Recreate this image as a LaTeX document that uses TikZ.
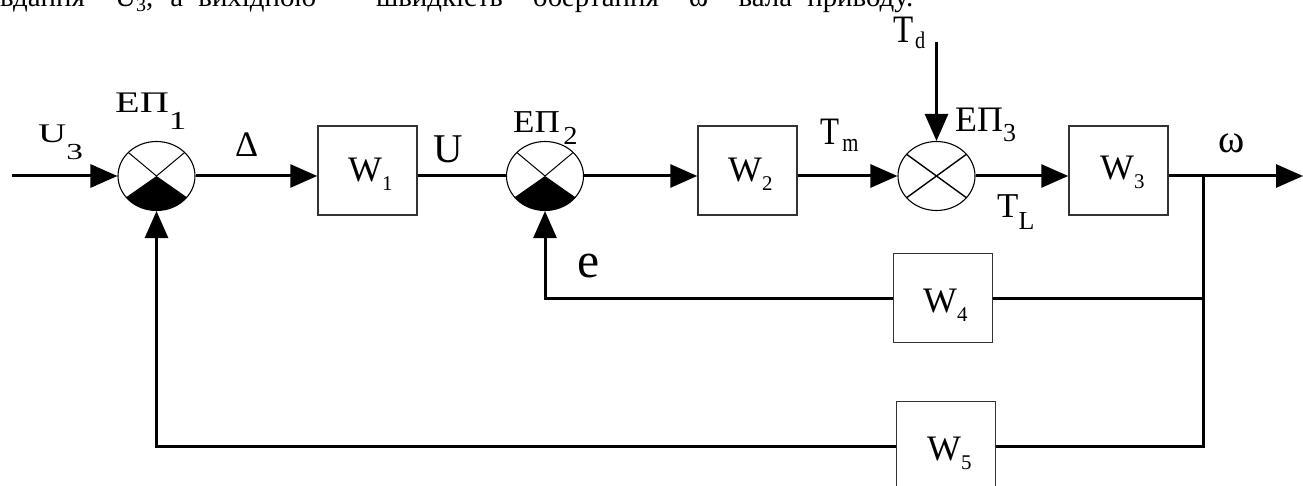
\documentclass[tikz,border=0pt]{standalone}
\usepackage{fontspec}
\usepackage{graphicx}
\setmainfont{Liberation Serif}
\usetikzlibrary{arrows.meta,shapes.geometric,calc}
\newcommand\fs[1]{\fontsize{#1}{#1}\selectfont}
\newcommand\lsub[3]{\raisebox{-#2bp}{\fs{#1}#3}}
\begin{document}
\begin{tikzpicture}[x=1bp,y=-1bp,
  ln/.style={line width=3bp},
  arr/.style={line width=3bp,-{Triangle[length=27bp,width=23bp]}},
  blk/.style={draw=black!80,line width=1.5bp,minimum width=99bp,minimum height=89bp,inner sep=0pt,fill=white},
  sj/.style={ellipse,draw,line width=1.1bp,minimum width=77bp,minimum height=69bp,inner sep=0pt},
  lbl/.style={inner sep=0pt,anchor=base west},
]
\useasboundingbox (0,0) rectangle (1303,486);
\clip (0,0) rectangle (1303,486);
\fill[white] (0,0) rectangle (1303,486);

% top text line (clipped, as in the reference)
\node[lbl,font=\fs{29}] (top) at (0,7) {\makebox[913bp][s]{вдання\ \ U\lsub{20}{5}{3}, а вихідною \ – швидкість \ обертання \ ω \ вала приводу.}};

% summing junctions
\node[sj] (j1) at (156.5,176) {};
\node[sj] (j2) at (545,176) {};
\node[sj] (j3) at (936.5,176) {};

% blocks
\node[blk] (w1) at (367.5,170.5) {};
\node[blk] (w2) at (747.5,170.5) {};
\node[blk] (w3) at (1118.5,170.5) {};
\node[blk] (w4) at (943,298) {};
\node[blk] (w5) at (946,446) {};

% junction decorations
\foreach \j in {j1,j2}{
  \fill (\j.center) -- ++(142:38.5 and 34.5) arc[start angle=142,end angle=38,x radius=38.5,y radius=34.5] -- cycle;
  \draw[line width=1bp] (\j.center) -- ++(-43:38.5 and 34.5);
  \draw[line width=1bp] (\j.center) -- ++(-137:38.5 and 34.5);
}
\draw[line width=1.4bp] ($(j3.center)+(-39:38.5 and 34.5)$) -- ($(j3.center)+(141:38.5 and 34.5)$);
\draw[line width=1.4bp] ($(j3.center)+(-141:38.5 and 34.5)$) -- ($(j3.center)+(39:38.5 and 34.5)$);

% coordinates
\coordinate (in) at (12,176);
\coordinate (out) at (1303,176);
\coordinate (td) at (936.5,42);
\coordinate (br) at (1203,176);

% connectors
\draw[arr] (in) -- (j1.west);
\draw[arr] (j1.east) -- (j1.east -| w1.west);
\draw[ln] (j2.west -| w1.east) -- (j2.west);
\draw[arr] (j2.east) -- (j2.east -| w2.west);
\draw[arr] (j3.west -| w2.east) -- (j3.west);
\draw[arr] (j3.east) -- (j3.east -| w3.west);
\draw[arr] (br -| w3.east) -- (out);
\draw[arr] (td) -- (j3.north);
\draw[ln] (br) |- (w5.east);
\draw[ln] (br |- w4.east) -- (w4.east);
\draw[arr] (w4.west) -| (j2.south);
\draw[arr] (w5.west) -| (j1.south);

% labels
\node[lbl] (lu3) at (38,143) {\scalebox{1.45}[1]{\fs{27}U\lsub{23}{17}{3}}};
\node[lbl] (le1) at (115,113) {\scalebox{1.35}[1]{\fs{30}ЕП\lsub{26}{17}{1}}};
\node[lbl,font=\fs{36}] (ld) at (235,157) {Δ};
\node[lbl,font=\fs{41}] (lu) at (433,163) {U};
\node[lbl] (le2) at (513,133) {\scalebox{1.1}[1]{\fs{32}ЕП\kern3bp\lsub{26}{12}{2}}};
\node[lbl] (ltm) at (820,145) {\scalebox{0.8}[1]{\fs{39}T\kern4bp\lsub{26}{7}{m}}};
\node[lbl] (ltd) at (893,43) {\scalebox{0.85}[1]{\fs{39}T\kern2bp\lsub{24}{6}{d}}};
\node[lbl] (le3) at (955,132) {\fs{36}ЕП\lsub{26}{10}{3}};
\node[lbl] (ltl) at (997,218) {\fs{35}T\lsub{26}{12}{L}};
\node[lbl,font=\fs{40}] (lw) at (1218,153) {ω};
\node[lbl,font=\fs{50}] (le) at (577,277) {e};

\node[lbl,font=\fs{36}] at (348,182) {W\lsub{21}{9}{1}};
\node[lbl,font=\fs{36}] at (728,182) {W\lsub{21}{9}{2}};
\node[lbl,font=\fs{36}] at (1100,180) {W\lsub{21}{9}{3}};
\node[lbl,font=\fs{36}] at (923,312) {W\lsub{21}{9}{4}};
\node[lbl,font=\fs{36}] at (927,460) {W\lsub{21}{9}{5}};
\end{tikzpicture}
\end{document}
